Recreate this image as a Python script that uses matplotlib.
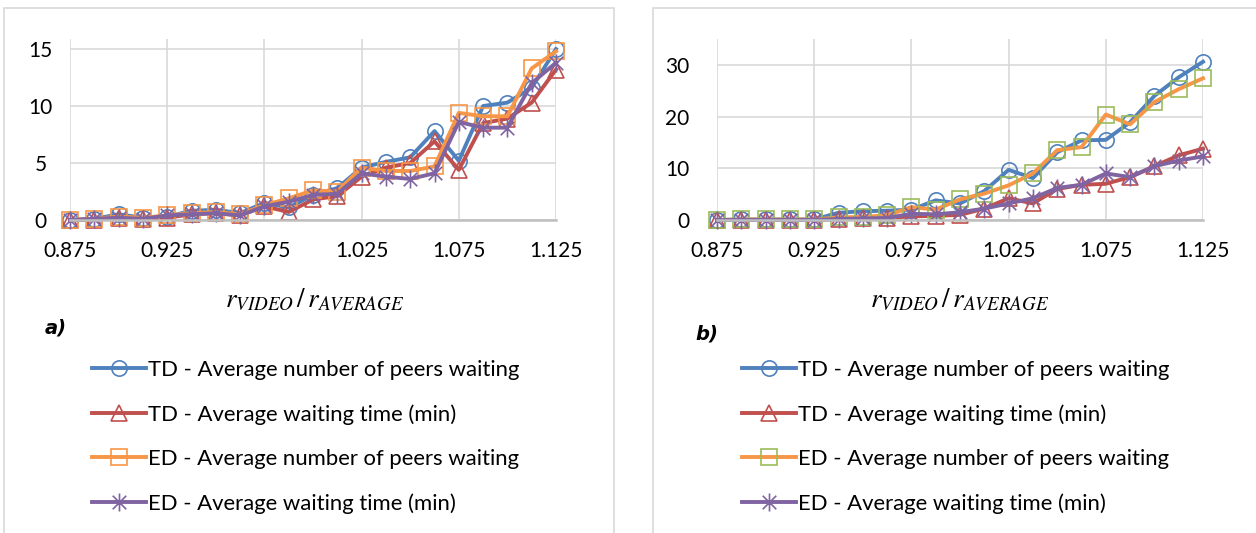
import matplotlib.pyplot as plt
from matplotlib.patches import Rectangle
from matplotlib.path import Path

plt.rcParams['font.family'] = ['Lato', 'DejaVu Sans']
plt.rcParams['mathtext.fontset'] = 'stix'

# r_video / r_average values on the x axis
ratio = [0.875, 0.8875, 0.9, 0.9125, 0.925, 0.9375, 0.95, 0.9625, 0.975, 0.9875,
         1.0, 1.0125, 1.025, 1.0375, 1.05, 1.0625, 1.075, 1.0875, 1.1, 1.1125, 1.125]
xticks = [0.875, 0.925, 0.975, 1.025, 1.075, 1.125]

labels = ['TD - Average number of peers waiting',
          'TD - Average waiting time (min)',
          'ED - Average number of peers waiting',
          'ED - Average waiting time (min)']

# panel a)
a_td_num = [0.0, 0.1, 0.5, 0.2, 0.3, 0.8, 0.9, 0.6, 1.5, 1.1, 2.2, 2.8, 4.6, 5.1, 5.5,
            7.8, 5.2, 10.0, 10.3, 11.6, 15.0]
a_td_wait = [0.0, 0.0, 0.2, 0.1, 0.2, 0.5, 0.6, 0.4, 1.2, 0.7, 1.8, 2.1, 3.8, 4.6, 5.0,
             6.9, 4.4, 8.5, 8.9, 10.3, 13.2]
a_ed_num = [0.0, 0.1, 0.3, 0.2, 0.4, 0.6, 0.7, 0.5, 1.3, 1.9, 2.6, 2.5, 4.6, 4.3, 4.3,
            4.7, 9.4, 9.1, 9.1, 13.3, 14.8]
a_ed_wait = [0.0, 0.1, 0.2, 0.1, 0.4, 0.5, 0.6, 0.4, 1.2, 1.6, 2.2, 2.3, 4.1, 3.8, 3.6,
             4.1, 8.6, 8.1, 8.1, 12.0, 13.8]

# panel b)
b_td_num = [0.0, 0.1, 0.1, 0.1, 0.1, 1.4, 1.7, 1.8, 2.0, 3.8, 3.2, 5.6, 9.7, 8.1, 13.1,
            15.4, 15.5, 18.9, 24.0, 27.6, 30.6]
b_td_wait = [0.0, 0.0, 0.0, 0.0, 0.0, 0.2, 0.3, 0.4, 0.7, 0.8, 1.0, 2.2, 4.2, 3.2, 6.0,
             6.8, 7.0, 8.3, 10.4, 12.5, 13.8]
b_ed_num = [0.0, 0.1, 0.1, 0.1, 0.1, 0.5, 0.6, 0.9, 2.5, 2.0, 4.0, 5.1, 6.7, 9.0, 13.5,
            14.1, 20.4, 18.5, 22.8, 25.3, 27.4]
b_ed_wait = [0.0, 0.0, 0.0, 0.0, 0.0, 0.2, 0.3, 0.4, 1.2, 1.1, 1.5, 2.2, 3.2, 4.2, 6.2,
             6.8, 9.0, 8.3, 10.4, 11.5, 12.3]

W, H = 1256, 533
fig = plt.figure(figsize=(W / 100, H / 100), dpi=100)

# excel style chart frames
fig.patches.append(Rectangle((4 / W, -0.1), 610 / W, 1.085, transform=fig.transFigure,
                             fill=False, ec='#d9d9d9', lw=1.2))
fig.patches.append(Rectangle((653 / W, -0.1), 610 / W, 1.085, transform=fig.transFigure,
                             fill=False, ec='#d9d9d9', lw=1.2))

star = Path([(0, -1), (0, 1), (-0.75, -0.75), (0.75, 0.75), (-0.75, 0.75), (0.75, -0.75)],
            [Path.MOVETO, Path.LINETO] * 3)

markers = ['o', '^', 's', star]
msizes = [11, 11, 11, 13]
line_cols = ['#4f81bd', '#c0504d', '#f79646', '#8064a2']


def draw(ax, series, mcols, ymax, yticks, ha, ypad):
    lines = []
    for vals, lc, mc, m, ms in zip(series, line_cols, mcols, markers, msizes):
        ln, = ax.plot(ratio, vals, color=lc, lw=2.8, marker=m, ms=ms, mfc='none',
                      mec=mc, mew=1.2, clip_on=False)
        lines.append(ln)
    ax.set_xlim(0.875, 1.125)
    ax.set_ylim(0, ymax)
    ax.set_xticks(xticks)
    ax.set_xticklabels(['%.3f' % v for v in xticks])
    ax.set_yticks(yticks)
    ax.grid(True, color='#d9d9d9', lw=1.2)
    ax.set_axisbelow(True)
    for s in ['top', 'right', 'left']:
        ax.spines[s].set_visible(False)
    ax.spines['bottom'].set_color('#bfbfbf')
    ax.spines['bottom'].set_linewidth(1.8)
    ax.tick_params(axis='x', length=0, pad=15, labelsize=15)
    ax.tick_params(axis='y', length=0, pad=ypad, labelsize=15)
    for t in ax.get_yticklabels():
        t.set_ha(ha)
    return lines


ax1 = fig.add_axes([70 / W, (H - 220) / H, 486 / W, 181 / H])
lines = draw(ax1, [a_td_num, a_td_wait, a_ed_num, a_ed_wait],
             line_cols, 15.88, [0, 5, 10, 15], 'center', 21)

ax2 = fig.add_axes([717 / W, (H - 220) / H, 486 / W, 181 / H])
lines2 = draw(ax2, [b_td_num, b_td_wait, b_ed_num, b_ed_wait],
              ['#4f81bd', '#c0504d', '#9bbb59', '#8064a2'], 35, [0, 10, 20, 30], 'right', 20)

xlab = r'$r_{VIDEO}\,/\,r_{AVERAGE}$'
fig.text(315 / W, (H - 300) / H, xlab, fontsize=19.5, ha='center', va='center')
fig.text(960 / W, (H - 300) / H, xlab, fontsize=19.5, ha='center', va='center')

fig.text(56 / W, (H - 328) / H, 'a)', fontsize=14, fontweight='bold', fontstyle='italic',
         family='DejaVu Sans', ha='center', va='center')
fig.text(707 / W, (H - 334) / H, 'b)', fontsize=14, fontweight='bold', fontstyle='italic',
         family='DejaVu Sans', ha='center', va='center')

for hl, x0 in [(lines, 92), (lines2, 742)]:
    fig.legend(hl, labels, loc='center left', bbox_to_anchor=(x0 / W, (H - 437) / H),
               frameon=False, fontsize=15.9, handlelength=2.44, handletextpad=0.09,
               labelspacing=1.1, borderpad=0, borderaxespad=0)

fig.savefig('out.png', dpi=100)
